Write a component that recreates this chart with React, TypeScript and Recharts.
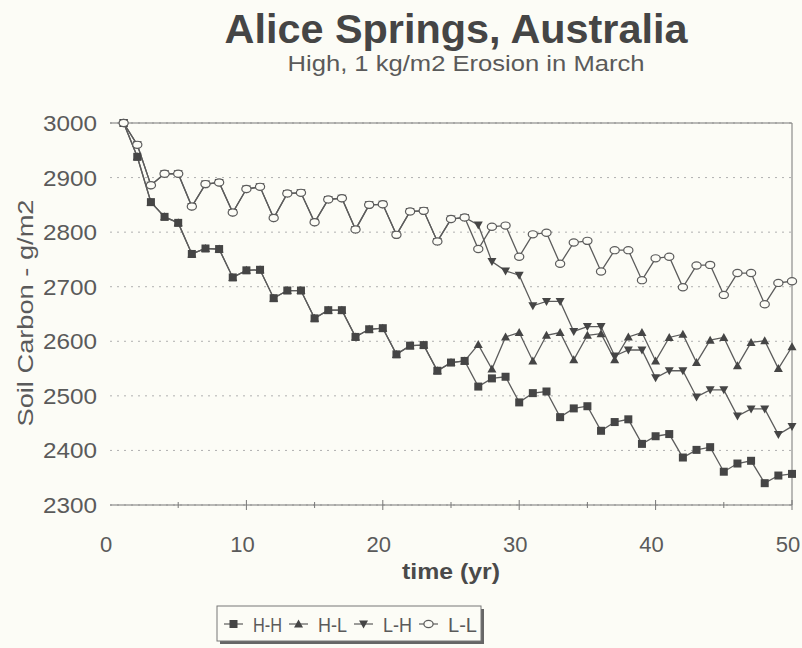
import { LineChart, Line, XAxis, YAxis, CartesianGrid, ReferenceLine } from 'recharts';

// years since start, one point per year
const YEARS = [
  1, 2, 3, 4, 5, 6, 7, 8, 9, 10, 11, 12, 13, 14, 15, 16, 17, 18, 19, 20, 21, 22, 23, 24, 25,
  26, 27, 28, 29, 30, 31, 32, 33, 34, 35, 36, 37, 38, 39, 40, 41, 42, 43, 44, 45, 46, 47, 48, 49, 50,
];

// soil carbon, g/m2
const HH = [
  3000, 2938, 2855, 2828, 2817, 2760, 2770, 2769, 2717, 2730, 2731, 2679, 2693, 2693, 2642, 2657, 2657,
  2608, 2622, 2624, 2576, 2592, 2593, 2546, 2561, 2564, 2517, 2532, 2535, 2488, 2505, 2508, 2461, 2477,
  2481, 2436, 2452, 2457, 2412, 2426, 2430, 2387, 2401, 2406, 2361, 2376, 2381, 2340, 2354, 2357,
];
const HL = [
  3000, 2938, 2855, 2828, 2817, 2760, 2770, 2769, 2717, 2730, 2731, 2679, 2693, 2693, 2642, 2657, 2657,
  2608, 2622, 2624, 2576, 2592, 2593, 2546, 2561, 2564, 2594, 2549, 2608, 2616, 2564, 2611, 2616, 2566,
  2611, 2614, 2566, 2608, 2616, 2564, 2607, 2613, 2561, 2602, 2607, 2555, 2598, 2601, 2550, 2590,
];
const LH = [
  3000, 2960, 2886, 2907, 2907, 2847, 2888, 2891, 2836, 2879, 2883, 2826, 2871, 2872, 2818, 2860, 2862,
  2805, 2850, 2851, 2795, 2838, 2839, 2783, 2824, 2827, 2813, 2746, 2729, 2721, 2665, 2673, 2673, 2618,
  2627, 2627, 2573, 2584, 2584, 2533, 2546, 2546, 2498, 2511, 2511, 2463, 2476, 2476, 2429, 2444,
];
const LL = [
  3000, 2960, 2886, 2907, 2907, 2847, 2888, 2891, 2836, 2879, 2883, 2826, 2871, 2872, 2818, 2860, 2862,
  2805, 2850, 2851, 2795, 2838, 2839, 2783, 2824, 2827, 2769, 2810, 2812, 2755, 2796, 2799, 2742, 2781,
  2784, 2728, 2767, 2767, 2712, 2752, 2755, 2699, 2739, 2740, 2685, 2725, 2725, 2668, 2707, 2710,
];

const X_TICKS = [0, 5, 10, 15, 20, 25, 30, 35, 40, 45, 50];
const Y_TICKS = [2300, 2400, 2500, 2600, 2700, 2800, 2900, 3000];
const SERIES_NAMES = ['H-H', 'H-L', 'L-H', 'L-L'];

const data = YEARS.map((year, i) => ({ year, hh: HH[i], hl: HL[i], lh: LH[i], ll: LL[i] }));

const BG = '#fcfcf6';
const INK = '#5c5c5c';
const MARK = '#454545';
const TXT = '#5a5a5a';
const FONT = "'Liberation Sans', Arial, Helvetica, sans-serif";

function Square({ cx, cy }: any) {
  return <rect x={cx - 4} y={cy - 4} width={8} height={8} fill={MARK} />;
}
function TriUp({ cx, cy }: any) {
  return <path d={`M${cx},${cy - 4.5}L${cx + 4.5},${cy + 3.5}L${cx - 4.5},${cy + 3.5}Z`} fill={MARK} />;
}
function TriDown({ cx, cy }: any) {
  return <path d={`M${cx},${cy + 4.5}L${cx + 4.5},${cy - 3.5}L${cx - 4.5},${cy - 3.5}Z`} fill={MARK} />;
}
function Ring({ cx, cy }: any) {
  return <ellipse cx={cx} cy={cy} rx={4.6} ry={3.6} fill={BG} stroke={INK} strokeWidth={1.2} />;
}

const MARKERS = [Square, TriUp, TriDown, Ring];

function XTick({ x, y, payload }: any) {
  const major = payload.value % 10 === 0;
  const h = major ? 5 : 3;
  return (
    <g>
      {payload.value > 0 && <line x1={x} x2={x} y1={y - h} y2={y + h} stroke="#777" />}
      {major && (
        <text x={x - 4} y={y + 47} textAnchor="middle" fontSize={22} fill={TXT} fontFamily={FONT}>
          {payload.value}
        </text>
      )}
    </g>
  );
}

function YTick({ x, y, payload }: any) {
  return (
    <text x={x - 13} y={y + 8} textAnchor="end" fontSize={22} fill={TXT} fontFamily={FONT}
      textLength={54} lengthAdjust="spacingAndGlyphs">
      {payload.value}
    </text>
  );
}

export default function App() {
  const dotFor = (i: number, key: string) => (p: any) => {
    const M = MARKERS[i];
    return <M key={`${key}-${p.index}`} cx={p.cx} cy={p.cy} />;
  };

  return (
    <div style={{ position: 'absolute', left: 0, top: 0, width: 802, height: 648, background: BG }}>
      <LineChart width={802} height={648} data={data} margin={{ top: 123, right: 10, bottom: 103, left: 0 }}>
        <CartesianGrid horizontal vertical={false} stroke="#b0b0b0" strokeDasharray="2 5" />
        <XAxis dataKey="year" type="number" domain={[0, 50]} ticks={X_TICKS} interval={0}
          axisLine={{ stroke: '#777' }} tickLine={false} tickSize={0} tickMargin={0} height={40} tick={<XTick />} />
        <YAxis type="number" domain={[2300, 3000]} ticks={Y_TICKS} interval={0} axisLine={false}
          tickLine={false} tickSize={0} tickMargin={0} width={110} tick={<YTick />} />
        <ReferenceLine y={3000} stroke="#777" />
        <ReferenceLine x={50} stroke="#777" />
        <Line dataKey="hl" stroke={INK} strokeWidth={1.3} dot={dotFor(1, 'hl')} activeDot={false} isAnimationActive={false} />
        <Line dataKey="lh" stroke={INK} strokeWidth={1.3} dot={dotFor(2, 'lh')} activeDot={false} isAnimationActive={false} />
        <Line dataKey="hh" stroke={INK} strokeWidth={1.3} dot={dotFor(0, 'hh')} activeDot={false} isAnimationActive={false} />
        <Line dataKey="ll" stroke={INK} strokeWidth={1.3} dot={dotFor(3, 'll')} activeDot={false} isAnimationActive={false} />
      </LineChart>

      {/* titles and legend */}
      <svg width={802} height={648} style={{ position: 'absolute', left: 0, top: 0, pointerEvents: 'none' }}>
        <text x={456} y={43} textAnchor="middle" fontSize={41} fontWeight="bold" fill="#454545" fontFamily={FONT}
          textLength={463} lengthAdjust="spacingAndGlyphs">
          Alice Springs, Australia
        </text>
        <text x={466} y={71} textAnchor="middle" fontSize={22} fill={TXT} fontFamily={FONT}
          textLength={357} lengthAdjust="spacingAndGlyphs">
          High, 1 kg/m2 Erosion in March
        </text>
        <text transform="translate(33,313) rotate(-90)" textAnchor="middle" fontSize={22} fill={TXT} fontFamily={FONT}
          textLength={227} lengthAdjust="spacingAndGlyphs">
          Soil Carbon - g/m2
        </text>
        <text x={451} y={579} textAnchor="middle" fontSize={22} fontWeight="bold" fill="#4a4a4a" fontFamily={FONT}
          textLength={98} lengthAdjust="spacingAndGlyphs">
          time (yr)
        </text>

        <rect x={220} y={609} width={264} height={35} fill="#666" />
        <rect x={217} y={606} width={264} height={35} fill={BG} stroke="#777" />
        {SERIES_NAMES.map((name, i) => {
          const x0 = 224 + i * 65;
          const M = MARKERS[i];
          return (
            <g key={name}>
              <line x1={x0} x2={x0 + 19} y1={624} y2={624} stroke={INK} strokeWidth={1.2} />
              <M cx={x0 + 9.5} cy={624} />
              <text x={x0 + 29} y={632} fontSize={21} fill={TXT} fontFamily={FONT}
                textLength={29} lengthAdjust="spacingAndGlyphs">
                {name}
              </text>
            </g>
          );
        })}
      </svg>
    </div>
  );
}
